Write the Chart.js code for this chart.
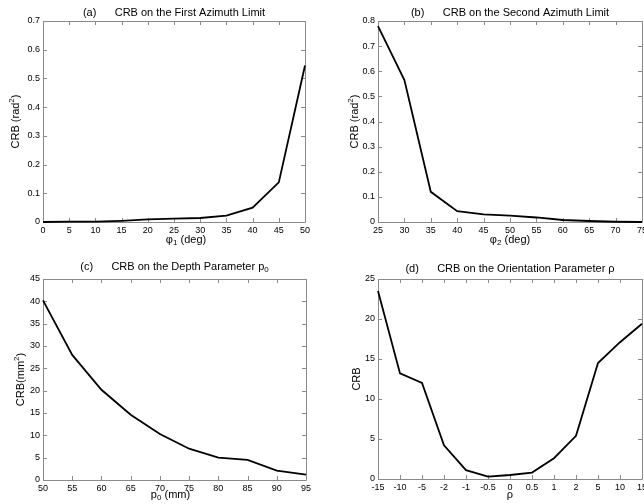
<!DOCTYPE html>
<html>
<head>
<meta charset="utf-8">
<script src="https://cdn.jsdelivr.net/npm/chart.js@4/dist/chart.umd.min.js"></script>
<style>
  body { margin: 0; background: #fff; }
  canvas { position: absolute; }
</style>
</head>
<body>
<canvas id="pa" width="322" height="252" style="left:0;top:0"></canvas>
<canvas id="pb" width="322" height="252" style="left:322px;top:0"></canvas>
<canvas id="pc" width="322" height="252" style="left:0;top:252px"></canvas>
<canvas id="pd" width="322" height="252" style="left:322px;top:252px"></canvas>
<script>
// --- data ---
const phi1Deg = [0, 5, 10, 15, 20, 25, 30, 35, 40, 45, 50];
const crbPhi1 = [0, 0.001, 0.001, 0.004, 0.009, 0.012, 0.014, 0.022, 0.05, 0.138, 0.545];

const phi2Deg = [25, 30, 35, 40, 45, 50, 55, 60, 65, 70, 75];
const crbPhi2 = [0.78, 0.565, 0.12, 0.043, 0.03, 0.025, 0.018, 0.008, 0.004, 0.001, 0];

const p0Mm = [50, 55, 60, 65, 70, 75, 80, 85, 90, 95];
const crbP0 = [40.2, 28, 20.2, 14.6, 10.3, 7, 5, 4.5, 2.1, 1.2];

const rhoLabels = ['-15', '-10', '-5', '-2', '-1', '-0.5', '0', '0.5', '1', '2', '5', '10', '15'];
const crbRho = [23.5, 13.2, 12, 4.2, 1.1, 0.3, 0.5, 0.8, 2.6, 5.4, 14.5, 17.1, 19.4];

// texts, as [text, 'sup'|'sub'] pieces
const titleA = [['(a)      CRB on the First Azimuth Limit']];
const titleB = [['(b)      CRB on the Second Azimuth Limit']];
const titleC = [['(c)      CRB on the Depth Parameter p'], ['0', 'sub']];
const titleD = [['(d)      CRB on the Orientation Parameter ρ']];
const xLabelA = [['φ'], ['1', 'sub'], [' (deg)']];
const xLabelB = [['φ'], ['2', 'sub'], [' (deg)']];
const xLabelC = [['p'], ['0', 'sub'], [' (mm)']];
const xLabelD = [['ρ']];
const yLabelA = [['CRB (rad'], ['2', 'sup'], [')']];
const yLabelB = [['CRB (rad'], ['2', 'sup'], [')']];
const yLabelC = [['CRB(mm'], ['2', 'sup'], [')']];
const yLabelD = [['CRB']];

const FONT = '"Liberation Sans", Arial, Helvetica, sans-serif';
const AXIS_GRAY = '#8a8a8a';

function segFont(kind) {
  return (kind ? 8 : 11) + 'px ' + FONT;
}
function richWidth(ctx, segs) {
  let w = 0;
  segs.forEach(s => { ctx.font = segFont(s[1]); w += ctx.measureText(s[0]).width; });
  return w;
}
function drawRich(ctx, segs, cx, cy) {
  let x = cx - richWidth(ctx, segs) / 2;
  ctx.textAlign = 'left';
  ctx.textBaseline = 'middle';
  segs.forEach(s => {
    ctx.font = segFont(s[1]);
    const dy = s[1] === 'sup' ? -4 : s[1] === 'sub' ? 3 : 0;
    ctx.fillText(s[0], x, cy + dy);
    x += ctx.measureText(s[0]).width;
  });
}

// matlab-like box with inward ticks, plus title and axis labels
const matlabFrame = {
  id: 'matlabFrame',
  beforeDatasetsDraw(chart) {
    const { ctx, chartArea: a, scales: { x, y } } = chart;
    ctx.save();
    ctx.strokeStyle = AXIS_GRAY;
    ctx.lineWidth = 1;
    ctx.beginPath();
    ctx.rect(Math.round(a.left) + 0.5, Math.round(a.top) + 0.5,
             Math.round(a.width), Math.round(a.height));
    x.ticks.forEach((t, i) => {
      const px = Math.round(x.getPixelForTick(i)) + 0.5;
      ctx.moveTo(px, a.bottom); ctx.lineTo(px, a.bottom - 4);
      ctx.moveTo(px, a.top); ctx.lineTo(px, a.top + 4);
    });
    y.ticks.forEach((t, i) => {
      const py = Math.round(y.getPixelForTick(i)) + 0.5;
      ctx.moveTo(a.left, py); ctx.lineTo(a.left + 4, py);
      ctx.moveTo(a.right, py); ctx.lineTo(a.right - 4, py);
    });
    ctx.stroke();
    ctx.restore();
  },
  afterDraw(chart, args, o) {
    const { ctx, chartArea: a } = chart;
    ctx.save();
    ctx.fillStyle = '#000';
    const cx = (a.left + a.right) / 2;
    drawRich(ctx, o.title, cx, a.top + o.titleDy);
    drawRich(ctx, o.xLabel, cx + (o.xLabelDx || 0), a.bottom + o.xLabelDy);
    ctx.translate(a.left + o.yLabelDx, (a.top + a.bottom) / 2);
    ctx.rotate(-Math.PI / 2);
    drawRich(ctx, o.yLabel, 0, 0);
    ctx.restore();
  }
};

function makePanel(id, p) {
  const tickFont = { family: FONT, size: 9 };
  const xScale = {
    type: p.xType,
    offset: false,
    ticks: { font: tickFont, color: '#000', padding: 3, maxRotation: 0, autoSkip: false },
    grid: { display: false, drawTicks: false },
    border: { display: false },
    afterFit(s) { s.height = p.xh; s.paddingLeft = 0; s.paddingRight = 0; }
  };
  if (p.xType === 'linear') {
    xScale.min = p.xMin; xScale.max = p.xMax; xScale.ticks.stepSize = p.xStep;
  }
  new Chart(document.getElementById(id), {
    type: 'line',
    data: {
      labels: p.labels,
      datasets: [{
        data: p.values,
        borderColor: '#000',
        borderWidth: 1.8,
        pointRadius: 0,
        tension: 0,
        clip: false
      }]
    },
    options: {
      responsive: false,
      animation: false,
      layout: { padding: { left: 0, top: p.top, right: p.right, bottom: 0 } },
      plugins: {
        legend: { display: false },
        tooltip: { enabled: false },
        matlabFrame: {
          title: p.title, titleDy: p.titleDy,
          xLabel: p.xLabel, xLabelDx: p.xLabelDx, xLabelDy: p.xLabelDy,
          yLabel: p.yLabel, yLabelDx: p.yLabelDx
        }
      },
      scales: {
        x: xScale,
        y: {
          min: 0, max: p.yMax,
          ticks: { stepSize: p.yStep, font: tickFont, color: '#000', padding: 3 },
          grid: { display: false, drawTicks: false },
          border: { display: false },
          afterFit(s) { s.width = p.yw; s.paddingTop = 0; s.paddingBottom = 0; }
        }
      }
    },
    plugins: [matlabFrame]
  });
}

const toXY = (xs, ys) => xs.map((v, i) => ({ x: v, y: ys[i] }));

makePanel('pa', {
  xType: 'linear', xMin: 0, xMax: 50, xStep: 5, values: toXY(phi1Deg, crbPhi1),
  yMax: 0.7, yStep: 0.1, yw: 43, xh: 30, top: 21, right: 17,
  title: titleA, titleDy: -8, xLabel: xLabelA, xLabelDx: 12, xLabelDy: 18,
  yLabel: yLabelA, yLabelDx: -27
});
makePanel('pb', {
  xType: 'linear', xMin: 25, xMax: 75, xStep: 5, values: toXY(phi2Deg, crbPhi2),
  yMax: 0.8, yStep: 0.1, yw: 56, xh: 30, top: 21, right: 2,
  title: titleB, titleDy: -8, xLabel: xLabelB, xLabelDx: 0, xLabelDy: 18,
  yLabel: yLabelB, yLabelDx: -23
});
makePanel('pc', {
  xType: 'linear', xMin: 50, xMax: 95, xStep: 5, values: toXY(p0Mm, crbP0),
  yMax: 45, yStep: 5, yw: 43, xh: 24, top: 27, right: 16,
  title: titleC, titleDy: -12, xLabel: xLabelC, xLabelDx: -4, xLabelDy: 15,
  yLabel: yLabelC, yLabelDx: -22
});
makePanel('pd', {
  xType: 'category', labels: rhoLabels, values: crbRho,
  yMax: 25, yStep: 5, yw: 56, xh: 25, top: 27, right: 2,
  title: titleD, titleDy: -10, xLabel: xLabelD, xLabelDx: 0, xLabelDy: 16,
  yLabel: yLabelD, yLabelDx: -21
});
</script>
</body>
</html>
